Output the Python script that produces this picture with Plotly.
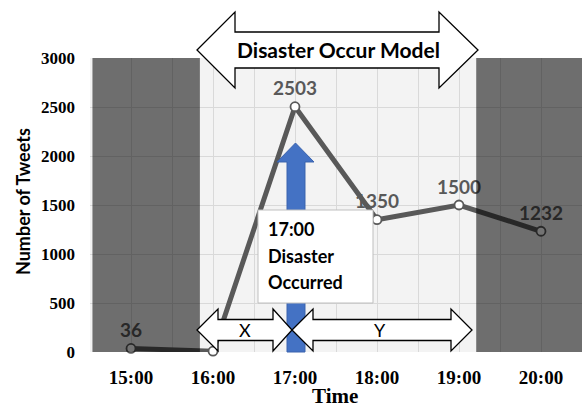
import plotly.graph_objects as go

# ---- data ----
times = ["15:00", "16:00", "17:00", "18:00", "19:00", "20:00"]
tweets = [36, 8, 2503, 1350, 1500, 1232]
shown_labels = ["36", "", "2503", "1350", "1500", "1232"]
y_ticks = [0, 500, 1000, 1500, 2000, 2500, 3000]

W, H = 585, 409
L, R, T, B = 90, 3, 58, 57
PW, PH = W - L - R, H - T - B


def px(xp):
    return (xp - L) / PW


def py(yp):
    return (T + PH - yp) / PH


def path(pts):
    s = "M " + " L ".join(f"{px(a):.5f},{py(b):.5f}" for a, b in pts) + " Z"
    return s


xs = list(range(len(times)))

GRAY = "rgb(89,89,89)"
SANS = "Lato"
SERIF = "Liberation Serif"

fig = go.Figure()
fig.add_trace(go.Scatter(
    x=xs, y=tweets, mode="lines+markers+text",
    line=dict(color=GRAY, width=5),
    marker=dict(size=9, color="white", line=dict(color=GRAY, width=1.8)),
    text=shown_labels, textposition="top center",
    textfont=dict(family=SANS, size=19, color=GRAY, weight="bold"),
    cliponaxis=False, showlegend=False, hoverinfo="skip",
))

shapes = []
# shaded (outside-model) regions
shade = "rgba(0,0,0,0.55)"
shapes.append(dict(type="rect", xref="x", yref="y", x0=-0.47, x1=0.84, y0=-10, y1=3000,
                   fillcolor=shade, line=dict(width=0), layer="above"))
shapes.append(dict(type="rect", xref="x", yref="y", x0=4.21, x1=5.5, y0=-10, y1=3000,
                   fillcolor=shade, line=dict(width=0), layer="above"))
# blue vertical arrow at 17:00
shapes.append(dict(type="path", xref="paper", yref="paper",
                   path=path([(287, 352), (287, 162), (277, 162), (295.5, 143), (314, 162),
                              (305, 162), (305, 352)]),
                   fillcolor="#4472C4", line=dict(color="#3A63AE", width=1), layer="above"))
# text box
shapes.append(dict(type="rect", xref="paper", yref="paper",
                   x0=px(258), x1=px(373), y0=py(303), y1=py(210),
                   fillcolor="white", line=dict(color="rgb(191,191,191)", width=1), layer="above"))
# X double arrow
shapes.append(dict(type="path", xref="paper", yref="paper",
                   path=path([(197, 330), (218, 309), (218, 319.5), (273, 319.5), (273, 309),
                              (292, 330), (273, 351), (273, 340.5), (218, 340.5), (218, 351)]),
                   fillcolor="white", line=dict(color="black", width=1.3), layer="above"))
# Y double arrow
shapes.append(dict(type="path", xref="paper", yref="paper",
                   path=path([(292, 330), (313, 309), (313, 319.5), (451, 319.5), (451, 309),
                              (472, 330), (451, 351), (451, 340.5), (313, 340.5), (313, 351)]),
                   fillcolor="white", line=dict(color="black", width=1.3), layer="above"))
# Top double arrow
shapes.append(dict(type="path", xref="paper", yref="paper",
                   path=path([(197, 50), (235, 12), (235, 32), (439, 32), (439, 12),
                              (478, 50), (439, 88), (439, 68), (235, 68), (235, 88)]),
                   fillcolor="white", line=dict(color="black", width=1.3), layer="above"))


def ann(text, xp, yp, size, family=SANS, weight="bold", xanchor="center", angle=0):
    return dict(text=text, x=px(xp), y=py(yp), xref="paper", yref="paper",
                xanchor=xanchor, yanchor="middle", showarrow=False, textangle=angle,
                font=dict(family=family, size=size, color="black", weight=weight))


annotations = [
    ann("Disaster Occur Model", 338, 50, 21),
    ann("X", 245, 330, 18, weight="normal"),
    ann("Y", 380, 330, 18, weight="normal"),
    ann("Number of Tweets", 23, 202, 18, angle=-90),
    ann("Time", 335, 396, 21, family=SERIF),
]
for txt, yc in [("17:00", 229), ("Disaster", 256), ("Occurred", 282)]:
    annotations.append(ann(txt, 266, yc, 18, xanchor="left"))

fig.update_layout(
    width=W, height=H, margin=dict(l=L, r=R, t=T, b=B, autoexpand=False),
    paper_bgcolor="white", plot_bgcolor="rgb(243,243,243)",
    shapes=shapes, annotations=annotations,
    xaxis=dict(range=[-0.5, 5.5], tickvals=xs, ticktext=times, automargin=False,
               showgrid=True, gridcolor="rgb(217,217,217)", gridwidth=1,
               minor=dict(dtick=0.5, tick0=0.5, showgrid=True, gridcolor="rgb(217,217,217)"),
               zeroline=False, showline=False, ticks="", ticklabelstandoff=12,
               tickfont=dict(family=SERIF, size=19, color="black", weight="bold")),
    yaxis=dict(range=[0, 3000], tickvals=y_ticks, showgrid=True, automargin=False,
               gridcolor="rgb(217,217,217)", gridwidth=1, zeroline=False, showline=False,
               ticks="", ticklabelstandoff=14,
               tickfont=dict(family=SERIF, size=17, color="black", weight="bold")),
)

fig.write_html("out.html", config={"displayModeBar": False},
               post_script="document.body.style.margin='0';")
